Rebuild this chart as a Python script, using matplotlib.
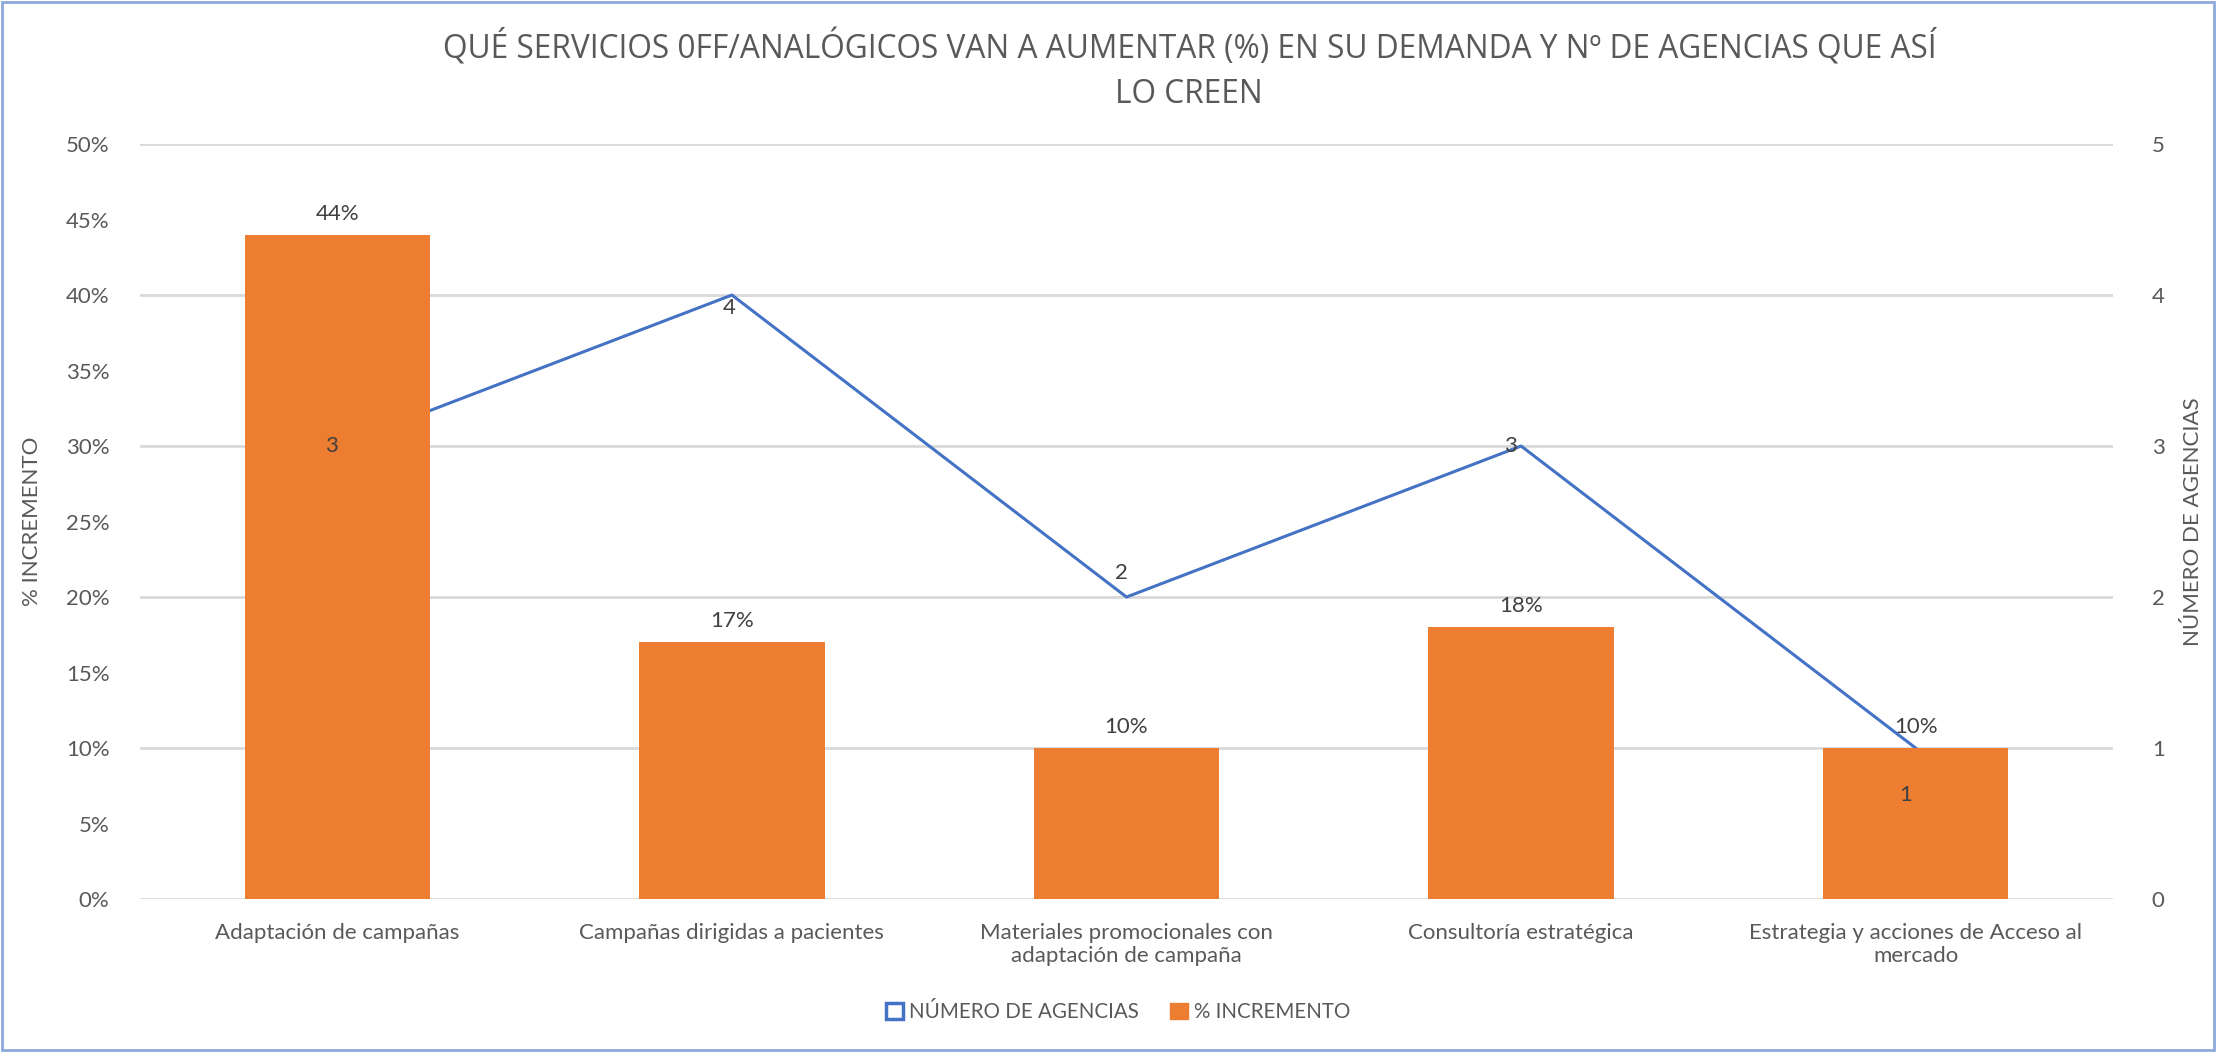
import matplotlib.pyplot as plt
from matplotlib.patches import Patch

# DATA
categorias = ['Adaptación de campañas',
              'Campañas dirigidas a pacientes',
              'Materiales promocionales con\nadaptación de campaña',
              'Consultoría estratégica',
              'Estrategia y acciones de Acceso al\nmercado']
pct_incremento = [44, 17, 10, 18, 10]
num_agencias = [3, 4, 2, 3, 1]
# offset of each line label, in points (as they sit in the original)
label_dy = [0, -9, 17, 0, -34]
label_dx = [-4, -2, -4, -8, -7]

orange = '#ED7D31'
blue = '#4472C4'
grid_c = '#D9D9D9'
txt = '#595959'
fs = 16
plt.rcParams['font.family'] = ['Lato', 'DejaVu Sans']

fig = plt.figure(figsize=(22.16, 10.52), dpi=100)
ax2 = fig.add_axes([0.0632, 0.1454, 0.8903, 0.7177])
ax1 = ax2.twinx()
ax1.set_position(ax2.get_position())

# the back axis holds the grid and the line, the front one the bars
ax2.yaxis.tick_right()
ax2.yaxis.set_label_position('right')
ax1.yaxis.tick_left()
ax1.yaxis.set_label_position('left')
ax1.set_zorder(ax2.get_zorder() + 1)
ax1.patch.set_visible(False)

x = list(range(len(categorias)))
ax2.plot(x, num_agencias, color=blue, lw=2.2, zorder=3)
ax2.set_ylim(0, 5)
ax2.set_yticks(range(0, 6))
ax2.grid(axis='y', color=grid_c, lw=2)
ax2.set_axisbelow(True)

ax1.bar(x, pct_incremento, width=0.47, color=orange, zorder=2)
ax1.set_ylim(0, 50)
ax1.set_yticks(range(0, 51, 5))
ax1.set_yticklabels([f'{v}%' for v in range(0, 51, 5)])
ax2.set_xlim(-0.5, len(categorias) - 0.5)

for i, v in enumerate(pct_incremento):
    ax1.annotate(f'{v}%', (i, v), xytext=(0, 8), textcoords='offset points',
                 ha='center', va='bottom', fontsize=fs, color='#404040')
for i, v in enumerate(num_agencias):
    ax1.annotate(str(v), (i, v), xycoords=ax2.transData,
                 xytext=(label_dx[i], label_dy[i]), textcoords='offset points',
                 ha='center', va='center', fontsize=fs, color='#404040', zorder=5)

for a in (ax1, ax2):
    for s in a.spines.values():
        s.set_visible(False)
    a.tick_params(length=0, labelsize=fs, labelcolor=txt)
ax2.tick_params(axis='y', pad=28)
ax1.tick_params(axis='y', pad=22)
ax2.set_xticks(x)
ax2.set_xticklabels(categorias, fontsize=fs, color=txt)
ax2.tick_params(axis='x', pad=17)

ax1.set_ylabel('% INCREMENTO', fontsize=fs, color=txt)
ax1.yaxis.set_label_coords(-0.0497, 0.5)
ax2.set_ylabel('NÚMERO DE AGENCIAS', fontsize=fs, color=txt, rotation=90)
ax2.yaxis.set_label_coords(1.0355, 0.5)

fig.suptitle('QUÉ SERVICIOS 0FF/ANALÓGICOS VAN A AUMENTAR (%) EN SU DEMANDA Y Nº DE AGENCIAS QUE ASÍ\nLO CREEN',
             x=0.5367, y=0.972, fontsize=22.8, color=txt, linespacing=1.45, family='Open Sans')

handles = [Patch(facecolor='white', edgecolor=blue, lw=2.5, label='NÚMERO DE AGENCIAS'),
           Patch(facecolor=orange, edgecolor=orange, label='% INCREMENTO')]
fig.legend(handles=handles, loc='center', bbox_to_anchor=(0.5045, 0.038), ncol=2, frameon=False,
           fontsize=14.8, labelcolor=txt, handlelength=0.85, handleheight=0.85, handletextpad=0.3,
           columnspacing=1.5)

fig.patches.append(plt.Rectangle((0.001, 0.002), 0.998, 0.996, transform=fig.transFigure,
                                 fill=False, edgecolor='#8EAADB', lw=2))

plt.savefig('out.png', dpi=100)
